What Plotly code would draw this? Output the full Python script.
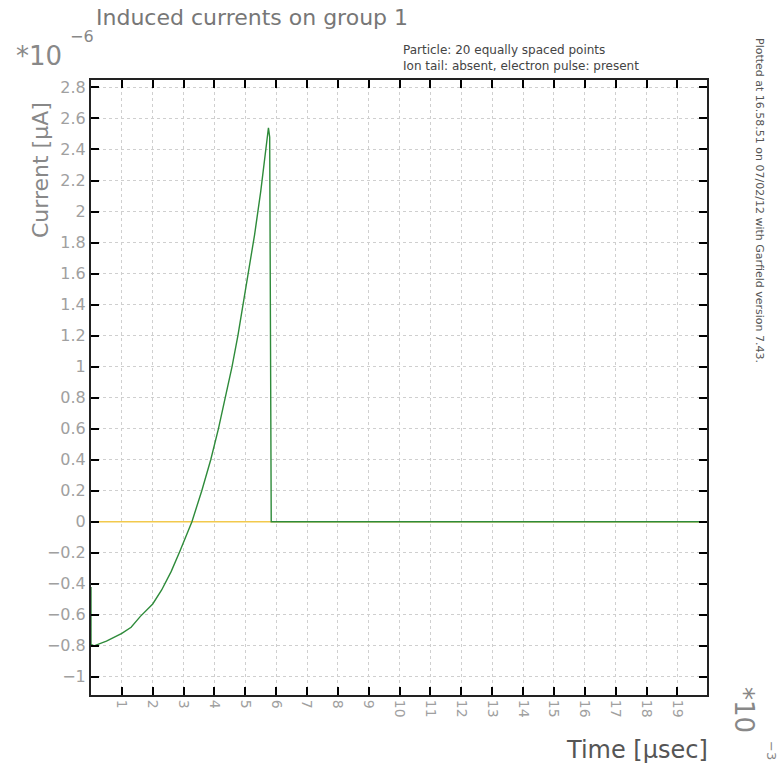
import plotly.graph_objects as go

# Data (time in 1e-3 microseconds, current in 1e-6 microamperes)
time_signal = [0.0, 0.0, 0.1, 0.5, 1.0, 1.3, 1.6, 2.0, 2.29, 2.6, 2.88, 3.1, 3.27, 3.59, 3.88,
               4.13, 4.36, 4.57, 4.76, 4.93, 5.1, 5.3, 5.5, 5.75, 5.79, 5.84, 20.0]
current_signal = [-0.42, -0.79, -0.80, -0.77, -0.72, -0.68, -0.61, -0.53, -0.44, -0.32, -0.19,
                  -0.08, 0.0, 0.2, 0.4, 0.6, 0.8, 1.0, 1.2, 1.4, 1.6, 1.85, 2.13, 2.54, 2.48,
                  0.0, 0.0]
time_baseline = [0.0, 20.0]
current_baseline = [0.0, 0.0]

x_ticks = list(range(1, 20))
y_ticks = [round(-1 + 0.2 * i, 1) for i in range(20)]
y_labels = [f"{v:g}".replace("-", "\u2212") for v in y_ticks]

FONT = "DejaVu Sans"
GRAY = "#7a7a7a"

fig = go.Figure()
fig.add_trace(go.Scatter(x=time_baseline, y=current_baseline, mode="lines",
                         line=dict(color="#f2c94c", width=1.5), showlegend=False))
fig.add_trace(go.Scatter(x=time_signal, y=current_signal, mode="lines",
                         line=dict(color="#2e8b3a", width=1.4), showlegend=False))

fig.update_layout(
    width=782, height=768,
    margin=dict(l=91, r=75, t=80, b=73),
    paper_bgcolor="white", plot_bgcolor="white",
    font=dict(family=FONT, color=GRAY),
    xaxis=dict(range=[0, 19.96], tickmode="array", tickvals=x_ticks,
               ticktext=[str(v) for v in x_ticks], tickangle=90,
               tickfont=dict(size=14, color="#a0a0a0"),
               showgrid=True, gridcolor="#cfcfcf", griddash="dot", gridwidth=1,
               ticks="inside", ticklen=8, tickcolor="black", tickwidth=1.5,
               showline=True, linecolor="#222", linewidth=2, mirror="allticks",
               zeroline=False),
    yaxis=dict(range=[-1.117, 2.848], tickmode="array", tickvals=y_ticks,
               ticktext=y_labels, tickfont=dict(size=16, color="#a0a0a0"),
               showgrid=True, gridcolor="#cfcfcf", griddash="dot", gridwidth=1,
               ticks="inside", ticklen=8, tickcolor="black", tickwidth=1.5,
               showline=True, linecolor="#222", linewidth=2, mirror="allticks",
               zeroline=False),
)


def add(text, px, py, size, color=GRAY, xanchor="left", yanchor="middle", angle=0):
    # convert pixel position to paper coordinates relative to the plot area
    l, r, t, b = 91, 75, 80, 73
    w = 782 - l - r
    h = 768 - t - b
    xp = (px - l) / w
    yp = (768 - b - py) / h
    fig.add_annotation(text=text, x=xp, y=yp, xref="paper", yref="paper",
                       xanchor=xanchor, yanchor=yanchor, showarrow=False, textangle=angle,
                       font=dict(family=FONT, size=size, color=color))


add("Induced currents on group 1", 94, 18, 22, "#777")
add("*10", 14, 56, 26, "#888")
add("\u22126", 68, 36, 16, "#888")
add("Particle: 20 equally spaced points", 401, 50, 12, "#444")
add("Ion tail: absent, electron pulse: present", 401, 66, 12, "#444")
add("Current [\u03bcA]", 40, 170, 22, "#888", xanchor="center", angle=-90)
add("Time [\u03bcsec]", 710, 750, 24, "#555", xanchor="right")
add("*10", 744, 710, 26, "#888", xanchor="center", angle=90)
add("\u22123", 772, 750, 13, "#888", xanchor="center", angle=90)
add("Plotted at 16.58.51 on 07/02/12 with Garfield version 7.43.", 759, 200, 11, "#555",
    xanchor="center", angle=90)

fig.write_html("out.html")
